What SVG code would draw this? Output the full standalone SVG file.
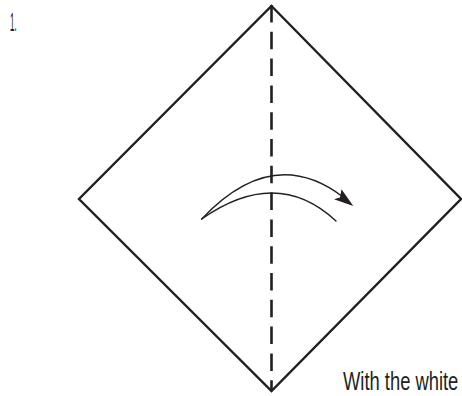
<svg xmlns="http://www.w3.org/2000/svg" width="462" height="396" viewBox="0 0 462 396">
<style>
.edge{fill:none;stroke:#231f20;stroke-width:2.4;stroke-linejoin:miter}
.fold{fill:none;stroke:#231f20;stroke-width:2.6;stroke-dasharray:17.5 9.3}
.arc{fill:none;stroke:#231f20;stroke-width:1.4;stroke-linecap:round}
.lbl{font-family:"Liberation Sans",Arial,sans-serif;font-size:25px;fill:#231f20}
</style>
<rect width="462" height="396" fill="#fff"/>
<g id="step-number"><text class="lbl" transform="translate(10,30.5) scale(0.32,1)">1.</text></g>
<g id="paper">
<polygon class="edge" points="271.5,6 461,199 271.5,391 79,199"/>
</g>
<g id="connectors">
<line class="fold" x1="271.5" y1="5" x2="271.5" y2="391"/>
<path class="arc" d="M201.7,219 Q273,143.5 343,197"/>
<path class="arc" d="M201.7,219 Q277,166 336,221"/>
<polygon fill="#231f20" points="353.3,206 341.5,189.3 340,197.5 334,199.3"/>
</g>
<g id="caption"><text class="lbl" transform="translate(343,389.5) scale(0.735,1)">With the white</text></g>
</svg>
